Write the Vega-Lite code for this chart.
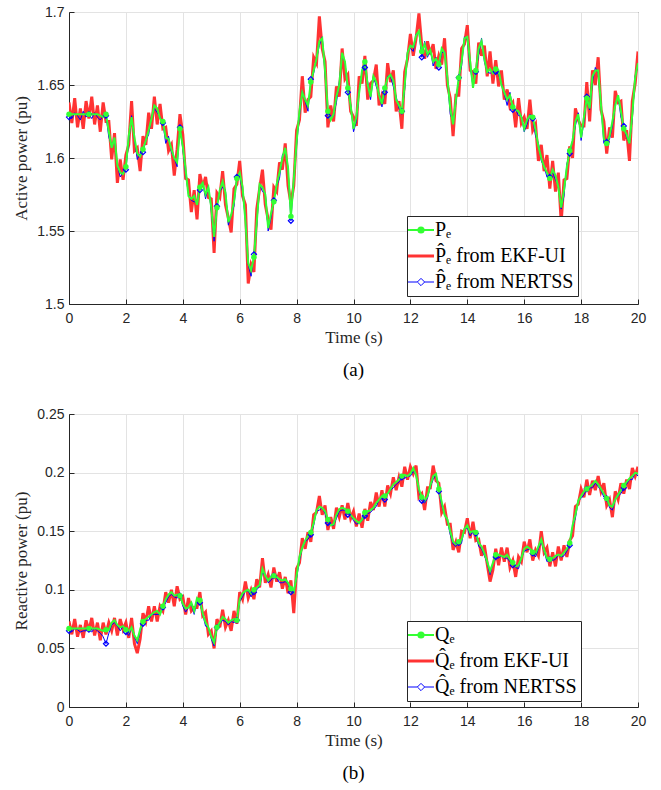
{
"$schema": "https://vega.github.io/schema/vega-lite/v6.json",
"padding": {"left": 12, "top": 4, "right": 10, "bottom": 5},
"config": {
  "view": {"stroke": "#262626", "strokeWidth": 1},
  "axis": {"domainColor": "#262626", "tickColor": "#262626", "tickSize": -5, "labelFlush": false, "labelFont": "Liberation Sans", "labelFontSize": 14, "labelColor": "#262626", "titleFont": "Liberation Serif", "titleFontSize": 17, "titleFontWeight": "normal", "titleColor": "#262626", "gridColor": "#e3e3e3", "gridWidth": 1},
  "axisX": {"labelPadding": 12, "titlePadding": 4},
  "axisY": {"labelPadding": 10, "titlePadding": 6},
  "legend": {"orient": "none", "legendX": 338, "legendY": 204, "fillColor": "white", "strokeColor": "#262626", "padding": 4, "labelFont": "Liberation Serif", "labelFontSize": 20, "labelColor": "black", "symbolSize": 676, "rowPadding": 6, "labelOffset": 4},
  "title": {"font": "Liberation Serif", "fontSize": 19, "fontWeight": "normal", "color": "black"}
},
"resolve": {"scale": {"color": "independent"}, "legend": {"color": "independent"}},
"spacing": 25,
"data": {"values": [
{"t":0,"P":1.63,"Pk":1.638,"Pn":1.628,"Q":0.067,"Qk":0.073,"Qn":0.065},
{"t":0.1,"P":1.63,"Pk":1.624,"Pn":1.627,"Q":0.067,"Qk":0.062,"Qn":0.064},
{"t":0.2,"P":1.63,"Pk":1.641,"Pn":1.631,"Q":0.067,"Qk":0.075,"Qn":0.067},
{"t":0.3,"P":1.63,"Pk":1.621,"Pn":1.629,"Q":0.067,"Qk":0.060,"Qn":0.066},
{"t":0.4,"P":1.63,"Pk":1.634,"Pn":1.626,"Q":0.067,"Qk":0.070,"Qn":0.064},
{"t":0.5,"P":1.63,"Pk":1.620,"Pn":1.632,"Q":0.067,"Qk":0.059,"Qn":0.065},
{"t":0.6,"P":1.63,"Pk":1.639,"Pn":1.628,"Q":0.067,"Qk":0.074,"Qn":0.065},
{"t":0.7,"P":1.63,"Pk":1.627,"Pn":1.630,"Q":0.067,"Qk":0.065,"Qn":0.066},
{"t":0.8,"P":1.63,"Pk":1.642,"Pn":1.627,"Q":0.067,"Qk":0.076,"Qn":0.064},
{"t":0.9,"P":1.63,"Pk":1.623,"Pn":1.631,"Q":0.067,"Qk":0.061,"Qn":0.067},
{"t":1,"P":1.63,"Pk":1.636,"Pn":1.628,"Q":0.067,"Qk":0.072,"Qn":0.065},
{"t":1.1,"P":1.629,"Pk":1.618,"Pn":1.626,"Q":0.066,"Qk":0.057,"Qn":0.063},
{"t":1.2,"P":1.628,"Pk":1.638,"Pn":1.629,"Q":0.065,"Qk":0.072,"Qn":0.060},
{"t":1.3,"P":1.630,"Pk":1.625,"Pn":1.629,"Q":0.066,"Qk":0.062,"Qn":0.054},
{"t":1.4,"P":1.618,"Pk":1.625,"Pn":1.614,"Q":0.066,"Qk":0.072,"Qn":0.063},
{"t":1.5,"P":1.607,"Pk":1.599,"Pn":1.609,"Q":0.072,"Qk":0.065,"Qn":0.070},
{"t":1.6,"P":1.614,"Pk":1.617,"Pn":1.612,"Q":0.074,"Qk":0.076,"Qn":0.072},
{"t":1.7,"P":1.595,"Pk":1.583,"Pn":1.595,"Q":0.070,"Qk":0.061,"Qn":0.069},
{"t":1.8,"P":1.590,"Pk":1.599,"Pn":1.587,"Q":0.068,"Qk":0.075,"Qn":0.065},
{"t":1.9,"P":1.589,"Pk":1.585,"Pn":1.590,"Q":0.069,"Qk":0.066,"Qn":0.069},
{"t":2,"P":1.594,"Pk":1.602,"Pn":1.592,"Q":0.066,"Qk":0.072,"Qn":0.064},
{"t":2.1,"P":1.615,"Pk":1.609,"Pn":1.612,"Q":0.064,"Qk":0.059,"Qn":0.061},
{"t":2.2,"P":1.628,"Pk":1.639,"Pn":1.629,"Q":0.068,"Qk":0.076,"Qn":0.068},
{"t":2.3,"P":1.614,"Pk":1.605,"Pn":1.613,"Q":0.061,"Qk":0.054,"Qn":0.060},
{"t":2.4,"P":1.603,"Pk":1.607,"Pn":1.599,"Q":0.057,"Qk":0.046,"Qn":0.054},
{"t":2.5,"P":1.601,"Pk":1.591,"Pn":1.603,"Q":0.066,"Qk":0.058,"Qn":0.064},
{"t":2.6,"P":1.606,"Pk":1.615,"Pn":1.604,"Q":0.073,"Qk":0.080,"Qn":0.071},
{"t":2.7,"P":1.612,"Pk":1.609,"Pn":1.612,"Q":0.075,"Qk":0.073,"Qn":0.074},
{"t":2.8,"P":1.619,"Pk":1.631,"Pn":1.616,"Q":0.077,"Qk":0.086,"Qn":0.074},
{"t":2.9,"P":1.627,"Pk":1.620,"Pn":1.628,"Q":0.079,"Qk":0.073,"Qn":0.079},
{"t":3,"P":1.636,"Pk":1.642,"Pn":1.634,"Q":0.081,"Qk":0.086,"Qn":0.079},
{"t":3.1,"P":1.634,"Pk":1.623,"Pn":1.631,"Q":0.082,"Qk":0.073,"Qn":0.079},
{"t":3.2,"P":1.627,"Pk":1.637,"Pn":1.628,"Q":0.079,"Qk":0.086,"Qn":0.079},
{"t":3.3,"P":1.625,"Pk":1.620,"Pn":1.624,"Q":0.086,"Qk":0.082,"Qn":0.085},
{"t":3.4,"P":1.614,"Pk":1.621,"Pn":1.610,"Q":0.092,"Qk":0.098,"Qn":0.089},
{"t":3.5,"P":1.613,"Pk":1.605,"Pn":1.615,"Q":0.096,"Qk":0.089,"Qn":0.094},
{"t":3.6,"P":1.606,"Pk":1.609,"Pn":1.604,"Q":0.098,"Qk":0.100,"Qn":0.096},
{"t":3.7,"P":1.600,"Pk":1.588,"Pn":1.600,"Q":0.095,"Qk":0.086,"Qn":0.094},
{"t":3.8,"P":1.597,"Pk":1.606,"Pn":1.594,"Q":0.096,"Qk":0.103,"Qn":0.093},
{"t":3.9,"P":1.620,"Pk":1.630,"Pn":1.621,"Q":0.095,"Qk":0.092,"Qn":0.095},
{"t":4,"P":1.608,"Pk":1.616,"Pn":1.606,"Q":0.088,"Qk":0.094,"Qn":0.086},
{"t":4.1,"P":1.592,"Pk":1.586,"Pn":1.589,"Q":0.084,"Qk":0.079,"Qn":0.081},
{"t":4.2,"P":1.574,"Pk":1.585,"Pn":1.575,"Q":0.085,"Qk":0.093,"Qn":0.085},
{"t":4.3,"P":1.572,"Pk":1.563,"Pn":1.571,"Q":0.089,"Qk":0.082,"Qn":0.088},
{"t":4.4,"P":1.574,"Pk":1.578,"Pn":1.570,"Q":0.082,"Qk":0.085,"Qn":0.079},
{"t":4.5,"P":1.568,"Pk":1.558,"Pn":1.570,"Q":0.093,"Qk":0.085,"Qn":0.091},
{"t":4.6,"P":1.580,"Pk":1.589,"Pn":1.578,"Q":0.091,"Qk":0.098,"Qn":0.089},
{"t":4.7,"P":1.583,"Pk":1.580,"Pn":1.583,"Q":0.080,"Qk":0.078,"Qn":0.079},
{"t":4.8,"P":1.575,"Pk":1.587,"Pn":1.572,"Q":0.072,"Qk":0.081,"Qn":0.069},
{"t":4.9,"P":1.580,"Pk":1.573,"Pn":1.581,"Q":0.068,"Qk":0.062,"Qn":0.068},
{"t":5,"P":1.566,"Pk":1.572,"Pn":1.564,"Q":0.060,"Qk":0.065,"Qn":0.058},
{"t":5.1,"P":1.546,"Pk":1.535,"Pn":1.543,"Q":0.055,"Qk":0.050,"Qn":0.052},
{"t":5.2,"P":1.566,"Pk":1.576,"Pn":1.567,"Q":0.068,"Qk":0.075,"Qn":0.068},
{"t":5.3,"P":1.578,"Pk":1.573,"Pn":1.577,"Q":0.072,"Qk":0.068,"Qn":0.071},
{"t":5.4,"P":1.584,"Pk":1.591,"Pn":1.580,"Q":0.077,"Qk":0.083,"Qn":0.074},
{"t":5.5,"P":1.576,"Pk":1.568,"Pn":1.578,"Q":0.075,"Qk":0.068,"Qn":0.073},
{"t":5.6,"P":1.556,"Pk":1.559,"Pn":1.554,"Q":0.072,"Qk":0.074,"Qn":0.070},
{"t":5.7,"P":1.561,"Pk":1.549,"Pn":1.561,"Q":0.074,"Qk":0.065,"Qn":0.073},
{"t":5.8,"P":1.570,"Pk":1.579,"Pn":1.567,"Q":0.075,"Qk":0.082,"Qn":0.072},
{"t":5.9,"P":1.586,"Pk":1.582,"Pn":1.587,"Q":0.074,"Qk":0.071,"Qn":0.074},
{"t":6,"P":1.590,"Pk":1.598,"Pn":1.588,"Q":0.092,"Qk":0.098,"Qn":0.090},
{"t":6.1,"P":1.580,"Pk":1.574,"Pn":1.577,"Q":0.097,"Qk":0.092,"Qn":0.094},
{"t":6.2,"P":1.557,"Pk":1.568,"Pn":1.558,"Q":0.099,"Qk":0.107,"Qn":0.099},
{"t":6.3,"P":1.528,"Pk":1.514,"Pn":1.527,"Q":0.100,"Qk":0.093,"Qn":0.099},
{"t":6.4,"P":1.523,"Pk":1.527,"Pn":1.519,"Q":0.097,"Qk":0.100,"Qn":0.094},
{"t":6.5,"P":1.532,"Pk":1.522,"Pn":1.534,"Q":0.100,"Qk":0.092,"Qn":0.098},
{"t":6.6,"P":1.556,"Pk":1.565,"Pn":1.554,"Q":0.102,"Qk":0.109,"Qn":0.100},
{"t":6.7,"P":1.582,"Pk":1.579,"Pn":1.582,"Q":0.104,"Qk":0.102,"Qn":0.103},
{"t":6.8,"P":1.580,"Pk":1.592,"Pn":1.577,"Q":0.118,"Qk":0.127,"Qn":0.115},
{"t":6.9,"P":1.575,"Pk":1.568,"Pn":1.576,"Q":0.112,"Qk":0.106,"Qn":0.112},
{"t":7,"P":1.552,"Pk":1.558,"Pn":1.550,"Q":0.108,"Qk":0.113,"Qn":0.106},
{"t":7.1,"P":1.562,"Pk":1.551,"Pn":1.559,"Q":0.111,"Qk":0.102,"Qn":0.108},
{"t":7.2,"P":1.570,"Pk":1.580,"Pn":1.571,"Q":0.112,"Qk":0.119,"Qn":0.112},
{"t":7.3,"P":1.582,"Pk":1.577,"Pn":1.581,"Q":0.111,"Qk":0.107,"Qn":0.110},
{"t":7.4,"P":1.590,"Pk":1.597,"Pn":1.586,"Q":0.109,"Qk":0.115,"Qn":0.106},
{"t":7.5,"P":1.600,"Pk":1.592,"Pn":1.602,"Q":0.108,"Qk":0.101,"Qn":0.106},
{"t":7.6,"P":1.607,"Pk":1.610,"Pn":1.605,"Q":0.109,"Qk":0.111,"Qn":0.107},
{"t":7.7,"P":1.593,"Pk":1.581,"Pn":1.593,"Q":0.106,"Qk":0.097,"Qn":0.105},
{"t":7.8,"P":1.560,"Pk":1.569,"Pn":1.557,"Q":0.101,"Qk":0.108,"Qn":0.098},
{"t":7.9,"P":1.585,"Pk":1.581,"Pn":1.586,"Q":0.098,"Qk":0.080,"Qn":0.098},
{"t":8,"P":1.611,"Pk":1.619,"Pn":1.609,"Q":0.112,"Qk":0.118,"Qn":0.110},
{"t":8.1,"P":1.632,"Pk":1.626,"Pn":1.629,"Q":0.128,"Qk":0.123,"Qn":0.125},
{"t":8.2,"P":1.645,"Pk":1.656,"Pn":1.646,"Q":0.136,"Qk":0.144,"Qn":0.136},
{"t":8.3,"P":1.640,"Pk":1.631,"Pn":1.639,"Q":0.142,"Qk":0.135,"Qn":0.141},
{"t":8.4,"P":1.636,"Pk":1.640,"Pn":1.632,"Q":0.146,"Qk":0.149,"Qn":0.143},
{"t":8.5,"P":1.652,"Pk":1.642,"Pn":1.654,"Q":0.149,"Qk":0.141,"Qn":0.147},
{"t":8.6,"P":1.660,"Pk":1.669,"Pn":1.658,"Q":0.157,"Qk":0.164,"Qn":0.155},
{"t":8.7,"P":1.668,"Pk":1.665,"Pn":1.668,"Q":0.168,"Qk":0.166,"Qn":0.167},
{"t":8.8,"P":1.680,"Pk":1.697,"Pn":1.677,"Q":0.171,"Qk":0.180,"Qn":0.168},
{"t":8.9,"P":1.682,"Pk":1.675,"Pn":1.683,"Q":0.170,"Qk":0.164,"Qn":0.170},
{"t":9,"P":1.660,"Pk":1.666,"Pn":1.658,"Q":0.167,"Qk":0.172,"Qn":0.165},
{"t":9.1,"P":1.632,"Pk":1.621,"Pn":1.629,"Q":0.160,"Qk":0.151,"Qn":0.157},
{"t":9.2,"P":1.626,"Pk":1.636,"Pn":1.627,"Q":0.155,"Qk":0.162,"Qn":0.155},
{"t":9.3,"P":1.630,"Pk":1.625,"Pn":1.629,"Q":0.156,"Qk":0.152,"Qn":0.155},
{"t":9.4,"P":1.642,"Pk":1.649,"Pn":1.638,"Q":0.164,"Qk":0.170,"Qn":0.161},
{"t":9.5,"P":1.650,"Pk":1.642,"Pn":1.652,"Q":0.169,"Qk":0.162,"Qn":0.167},
{"t":9.6,"P":1.672,"Pk":1.675,"Pn":1.670,"Q":0.170,"Qk":0.172,"Qn":0.168},
{"t":9.7,"P":1.666,"Pk":1.654,"Pn":1.666,"Q":0.169,"Qk":0.160,"Qn":0.168},
{"t":9.8,"P":1.648,"Pk":1.657,"Pn":1.645,"Q":0.167,"Qk":0.174,"Qn":0.164},
{"t":9.9,"P":1.636,"Pk":1.632,"Pn":1.637,"Q":0.164,"Qk":0.161,"Qn":0.164},
{"t":10,"P":1.620,"Pk":1.628,"Pn":1.618,"Q":0.161,"Qk":0.167,"Qn":0.159},
{"t":10.1,"P":1.628,"Pk":1.622,"Pn":1.625,"Q":0.159,"Qk":0.154,"Qn":0.156},
{"t":10.2,"P":1.645,"Pk":1.656,"Pn":1.646,"Q":0.157,"Qk":0.165,"Qn":0.157},
{"t":10.3,"P":1.660,"Pk":1.651,"Pn":1.659,"Q":0.160,"Qk":0.153,"Qn":0.159},
{"t":10.4,"P":1.666,"Pk":1.670,"Pn":1.662,"Q":0.166,"Qk":0.169,"Qn":0.163},
{"t":10.5,"P":1.650,"Pk":1.640,"Pn":1.652,"Q":0.167,"Qk":0.159,"Qn":0.165},
{"t":10.6,"P":1.642,"Pk":1.651,"Pn":1.640,"Q":0.168,"Qk":0.175,"Qn":0.166},
{"t":10.7,"P":1.656,"Pk":1.653,"Pn":1.656,"Q":0.170,"Qk":0.168,"Qn":0.169},
{"t":10.8,"P":1.652,"Pk":1.664,"Pn":1.649,"Q":0.174,"Qk":0.183,"Qn":0.171},
{"t":10.9,"P":1.643,"Pk":1.636,"Pn":1.644,"Q":0.177,"Qk":0.171,"Qn":0.177},
{"t":11,"P":1.637,"Pk":1.643,"Pn":1.635,"Q":0.180,"Qk":0.185,"Qn":0.178},
{"t":11.1,"P":1.648,"Pk":1.637,"Pn":1.645,"Q":0.180,"Qk":0.171,"Qn":0.177},
{"t":11.2,"P":1.655,"Pk":1.665,"Pn":1.656,"Q":0.182,"Qk":0.189,"Qn":0.182},
{"t":11.3,"P":1.657,"Pk":1.652,"Pn":1.656,"Q":0.186,"Qk":0.182,"Qn":0.185},
{"t":11.4,"P":1.653,"Pk":1.660,"Pn":1.649,"Q":0.190,"Qk":0.196,"Qn":0.187},
{"t":11.5,"P":1.640,"Pk":1.632,"Pn":1.642,"Q":0.192,"Qk":0.185,"Qn":0.190},
{"t":11.6,"P":1.636,"Pk":1.639,"Pn":1.634,"Q":0.194,"Qk":0.196,"Qn":0.192},
{"t":11.7,"P":1.632,"Pk":1.620,"Pn":1.632,"Q":0.197,"Qk":0.188,"Qn":0.196},
{"t":11.8,"P":1.650,"Pk":1.659,"Pn":1.647,"Q":0.198,"Qk":0.205,"Qn":0.195},
{"t":11.9,"P":1.672,"Pk":1.668,"Pn":1.673,"Q":0.197,"Qk":0.194,"Qn":0.197},
{"t":12,"P":1.677,"Pk":1.685,"Pn":1.675,"Q":0.199,"Qk":0.205,"Qn":0.197},
{"t":12.1,"P":1.676,"Pk":1.670,"Pn":1.673,"Q":0.204,"Qk":0.199,"Qn":0.201},
{"t":12.2,"P":1.684,"Pk":1.682,"Pn":1.685,"Q":0.198,"Qk":0.206,"Qn":0.198},
{"t":12.3,"P":1.687,"Pk":1.699,"Pn":1.686,"Q":0.186,"Qk":0.179,"Qn":0.185},
{"t":12.4,"P":1.673,"Pk":1.677,"Pn":1.669,"Q":0.179,"Qk":0.182,"Qn":0.176},
{"t":12.5,"P":1.678,"Pk":1.668,"Pn":1.680,"Q":0.176,"Qk":0.168,"Qn":0.174},
{"t":12.6,"P":1.671,"Pk":1.680,"Pn":1.669,"Q":0.180,"Qk":0.187,"Qn":0.178},
{"t":12.7,"P":1.674,"Pk":1.671,"Pn":1.674,"Q":0.189,"Qk":0.187,"Qn":0.188},
{"t":12.8,"P":1.666,"Pk":1.678,"Pn":1.663,"Q":0.197,"Qk":0.206,"Qn":0.194},
{"t":12.9,"P":1.668,"Pk":1.661,"Pn":1.669,"Q":0.199,"Qk":0.193,"Qn":0.199},
{"t":13,"P":1.664,"Pk":1.670,"Pn":1.662,"Q":0.186,"Qk":0.191,"Qn":0.184},
{"t":13.1,"P":1.675,"Pk":1.664,"Pn":1.672,"Q":0.175,"Qk":0.166,"Qn":0.172},
{"t":13.2,"P":1.672,"Pk":1.682,"Pn":1.673,"Q":0.164,"Qk":0.171,"Qn":0.164},
{"t":13.3,"P":1.655,"Pk":1.650,"Pn":1.654,"Q":0.160,"Qk":0.156,"Qn":0.159},
{"t":13.4,"P":1.634,"Pk":1.641,"Pn":1.630,"Q":0.150,"Qk":0.156,"Qn":0.147},
{"t":13.5,"P":1.623,"Pk":1.615,"Pn":1.625,"Q":0.141,"Qk":0.134,"Qn":0.139},
{"t":13.6,"P":1.640,"Pk":1.643,"Pn":1.638,"Q":0.139,"Qk":0.141,"Qn":0.137},
{"t":13.7,"P":1.655,"Pk":1.643,"Pn":1.655,"Q":0.141,"Qk":0.132,"Qn":0.140},
{"t":13.8,"P":1.666,"Pk":1.675,"Pn":1.663,"Q":0.143,"Qk":0.150,"Qn":0.140},
{"t":13.9,"P":1.682,"Pk":1.678,"Pn":1.683,"Q":0.152,"Qk":0.149,"Qn":0.152},
{"t":14,"P":1.683,"Pk":1.691,"Pn":1.681,"Q":0.155,"Qk":0.161,"Qn":0.153},
{"t":14.1,"P":1.666,"Pk":1.660,"Pn":1.663,"Q":0.149,"Qk":0.144,"Qn":0.146},
{"t":14.2,"P":1.648,"Pk":1.659,"Pn":1.649,"Q":0.150,"Qk":0.158,"Qn":0.150},
{"t":14.3,"P":1.660,"Pk":1.651,"Pn":1.659,"Q":0.149,"Qk":0.142,"Qn":0.148},
{"t":14.4,"P":1.675,"Pk":1.679,"Pn":1.671,"Q":0.140,"Qk":0.143,"Qn":0.137},
{"t":14.5,"P":1.680,"Pk":1.670,"Pn":1.682,"Q":0.137,"Qk":0.129,"Qn":0.135},
{"t":14.6,"P":1.668,"Pk":1.677,"Pn":1.666,"Q":0.131,"Qk":0.138,"Qn":0.129},
{"t":14.7,"P":1.659,"Pk":1.656,"Pn":1.659,"Q":0.124,"Qk":0.122,"Qn":0.123},
{"t":14.8,"P":1.661,"Pk":1.673,"Pn":1.658,"Q":0.116,"Qk":0.107,"Qn":0.113},
{"t":14.9,"P":1.658,"Pk":1.651,"Pn":1.659,"Q":0.123,"Qk":0.117,"Qn":0.123},
{"t":15,"P":1.661,"Pk":1.667,"Pn":1.659,"Q":0.130,"Qk":0.135,"Qn":0.128},
{"t":15.1,"P":1.660,"Pk":1.649,"Pn":1.657,"Q":0.130,"Qk":0.121,"Qn":0.127},
{"t":15.2,"P":1.650,"Pk":1.660,"Pn":1.651,"Q":0.129,"Qk":0.136,"Qn":0.129},
{"t":15.3,"P":1.645,"Pk":1.640,"Pn":1.644,"Q":0.128,"Qk":0.124,"Qn":0.127},
{"t":15.4,"P":1.640,"Pk":1.647,"Pn":1.636,"Q":0.130,"Qk":0.136,"Qn":0.127},
{"t":15.5,"P":1.643,"Pk":1.635,"Pn":1.645,"Q":0.126,"Qk":0.119,"Qn":0.124},
{"t":15.6,"P":1.635,"Pk":1.638,"Pn":1.633,"Q":0.123,"Qk":0.125,"Qn":0.121},
{"t":15.7,"P":1.633,"Pk":1.621,"Pn":1.633,"Q":0.120,"Qk":0.111,"Qn":0.119},
{"t":15.8,"P":1.632,"Pk":1.641,"Pn":1.629,"Q":0.121,"Qk":0.128,"Qn":0.118},
{"t":15.9,"P":1.628,"Pk":1.624,"Pn":1.629,"Q":0.127,"Qk":0.124,"Qn":0.127},
{"t":16,"P":1.620,"Pk":1.628,"Pn":1.618,"Q":0.135,"Qk":0.141,"Qn":0.133},
{"t":16.1,"P":1.626,"Pk":1.620,"Pn":1.623,"Q":0.137,"Qk":0.132,"Qn":0.134},
{"t":16.2,"P":1.629,"Pk":1.640,"Pn":1.630,"Q":0.135,"Qk":0.143,"Qn":0.135},
{"t":16.3,"P":1.628,"Pk":1.619,"Pn":1.627,"Q":0.132,"Qk":0.125,"Qn":0.131},
{"t":16.4,"P":1.619,"Pk":1.623,"Pn":1.615,"Q":0.131,"Qk":0.134,"Qn":0.128},
{"t":16.5,"P":1.608,"Pk":1.598,"Pn":1.610,"Q":0.137,"Qk":0.129,"Qn":0.135},
{"t":16.6,"P":1.600,"Pk":1.609,"Pn":1.598,"Q":0.143,"Qk":0.150,"Qn":0.141},
{"t":16.7,"P":1.594,"Pk":1.591,"Pn":1.594,"Q":0.134,"Qk":0.132,"Qn":0.133},
{"t":16.8,"P":1.590,"Pk":1.602,"Pn":1.587,"Q":0.127,"Qk":0.136,"Qn":0.124},
{"t":16.9,"P":1.586,"Pk":1.579,"Pn":1.587,"Q":0.126,"Qk":0.120,"Qn":0.126},
{"t":17,"P":1.592,"Pk":1.598,"Pn":1.590,"Q":0.127,"Qk":0.132,"Qn":0.125},
{"t":17.1,"P":1.588,"Pk":1.577,"Pn":1.585,"Q":0.129,"Qk":0.120,"Qn":0.126},
{"t":17.2,"P":1.580,"Pk":1.590,"Pn":1.581,"Q":0.130,"Qk":0.137,"Qn":0.130},
{"t":17.3,"P":1.566,"Pk":1.556,"Pn":1.565,"Q":0.129,"Qk":0.125,"Qn":0.128},
{"t":17.4,"P":1.578,"Pk":1.585,"Pn":1.574,"Q":0.132,"Qk":0.138,"Qn":0.129},
{"t":17.5,"P":1.594,"Pk":1.586,"Pn":1.596,"Q":0.135,"Qk":0.128,"Qn":0.133},
{"t":17.6,"P":1.605,"Pk":1.608,"Pn":1.603,"Q":0.140,"Qk":0.142,"Qn":0.138},
{"t":17.7,"P":1.612,"Pk":1.600,"Pn":1.612,"Q":0.155,"Qk":0.146,"Qn":0.154},
{"t":17.8,"P":1.625,"Pk":1.634,"Pn":1.622,"Q":0.164,"Qk":0.171,"Qn":0.161},
{"t":17.9,"P":1.630,"Pk":1.626,"Pn":1.631,"Q":0.176,"Qk":0.173,"Qn":0.176},
{"t":18,"P":1.614,"Pk":1.622,"Pn":1.612,"Q":0.180,"Qk":0.186,"Qn":0.178},
{"t":18.1,"P":1.628,"Pk":1.622,"Pn":1.625,"Q":0.184,"Qk":0.179,"Qn":0.181},
{"t":18.2,"P":1.641,"Pk":1.652,"Pn":1.642,"Q":0.186,"Qk":0.194,"Qn":0.186},
{"t":18.3,"P":1.634,"Pk":1.625,"Pn":1.633,"Q":0.188,"Qk":0.181,"Qn":0.187},
{"t":18.4,"P":1.656,"Pk":1.660,"Pn":1.652,"Q":0.190,"Qk":0.193,"Qn":0.187},
{"t":18.5,"P":1.660,"Pk":1.650,"Pn":1.662,"Q":0.193,"Qk":0.185,"Qn":0.191},
{"t":18.6,"P":1.660,"Pk":1.669,"Pn":1.658,"Q":0.190,"Qk":0.197,"Qn":0.188},
{"t":18.7,"P":1.636,"Pk":1.633,"Pn":1.636,"Q":0.186,"Qk":0.184,"Qn":0.185},
{"t":18.8,"P":1.613,"Pk":1.625,"Pn":1.610,"Q":0.182,"Qk":0.191,"Qn":0.179},
{"t":18.9,"P":1.610,"Pk":1.603,"Pn":1.611,"Q":0.178,"Qk":0.172,"Qn":0.178},
{"t":19,"P":1.615,"Pk":1.621,"Pn":1.613,"Q":0.172,"Qk":0.177,"Qn":0.170},
{"t":19.1,"P":1.625,"Pk":1.614,"Pn":1.622,"Q":0.171,"Qk":0.162,"Qn":0.168},
{"t":19.2,"P":1.636,"Pk":1.646,"Pn":1.637,"Q":0.177,"Qk":0.184,"Qn":0.177},
{"t":19.3,"P":1.643,"Pk":1.638,"Pn":1.642,"Q":0.181,"Qk":0.177,"Qn":0.180},
{"t":19.4,"P":1.632,"Pk":1.639,"Pn":1.628,"Q":0.185,"Qk":0.191,"Qn":0.182},
{"t":19.5,"P":1.620,"Pk":1.612,"Pn":1.622,"Q":0.189,"Qk":0.182,"Qn":0.187},
{"t":19.6,"P":1.616,"Pk":1.619,"Pn":1.614,"Q":0.192,"Qk":0.194,"Qn":0.190},
{"t":19.7,"P":1.610,"Pk":1.598,"Pn":1.610,"Q":0.195,"Qk":0.186,"Qn":0.194},
{"t":19.8,"P":1.630,"Pk":1.639,"Pn":1.627,"Q":0.197,"Qk":0.204,"Qn":0.194},
{"t":19.9,"P":1.655,"Pk":1.651,"Pn":1.656,"Q":0.200,"Qk":0.197,"Qn":0.200},
{"t":20,"P":1.665,"Pk":1.673,"Pn":1.663,"Q":0.199,"Qk":0.205,"Qn":0.197}
]},
"vconcat": [
{
  "width": 569, "height": 292,
  "title": {"text": "(a)", "orient": "bottom", "anchor": "middle", "frame": "group", "offset": 16},
  "encoding": {"x": {"field": "t", "type": "quantitative", "scale": {"domain": [0, 20], "nice": false}, "axis": {"title": "Time (s)", "values": [0,2,4,6,8,10,12,14,16,18,20], "format": "d"}}},
  "layer": [
    {"mark": {"type": "line", "strokeWidth": 3, "clip": true},
     "encoding": {"y": {"field": "Pk", "type": "quantitative", "scale": {"domain": [1.5, 1.7], "nice": false, "zero": false}, "axis": {"title": "Active power (pu)", "values": [1.5,1.55,1.6,1.65,1.7], "format": "~g"}},
       "color": {"datum": "b", "type": "nominal", "scale": {"domain": ["a","b","c"], "range": ["#33ff33","#ff3333","#0000ff"]},
         "legend": {"title": null, "symbolSize": 676, "labelExpr": "datum.value === 'a' ? 'P\u2091' : datum.value === 'b' ? 'P\u0302\u2091 from EKF-UI' : 'P\u0302\u2091 from NERTSS'",
           "symbolType": {"expr": "datum.value === 'a' ? 'M-1,0H1M-0.2,0A0.2,0.2,0,1,1,0.2,0A0.2,0.2,0,1,1,-0.2,0Z' : datum.value === 'b' ? 'M-1,0H1' : 'M-1,0H-0.28M0.28,0H1M-0.28,0L0,-0.28L0.28,0L0,0.28Z'"},
           "symbolFillColor": {"expr": "datum.value === 'a' ? '#33ff33' : datum.value === 'c' ? '#ffffff' : 'transparent'"},
           "symbolStrokeWidth": {"expr": "datum.value === 'b' ? 3 : datum.value === 'a' ? 2 : 1"}}}}},
    {"mark": {"type": "line", "strokeWidth": 1, "color": "#0000ff", "clip": true}, "encoding": {"y": {"field": "Pn", "type": "quantitative"}}},
    {"mark": {"type": "line", "strokeWidth": 2, "color": "#33ff33", "clip": true}, "encoding": {"y": {"field": "P", "type": "quantitative"}}},
    {"transform": [{"filter": {"field": "t", "oneOf": [0,0.7,1.3,2,2.6,3.3,3.9,4.6,5.2,5.9,6.5,7.2,7.8,8.5,9.1,9.8,10.4,11.1,11.7,12.4,13,13.7,14.3,15,15.6,16.3,16.9,17.6,18.2,18.9,19.5]}}],
     "mark": {"type": "point", "shape": "diamond", "filled": false, "size": 26, "strokeWidth": 1.2, "color": "#0000ff", "opacity": 1},
     "encoding": {"y": {"field": "Pn", "type": "quantitative"}}},
    {"transform": [{"filter": {"field": "t", "oneOf": [0,0.7,1.3,2,2.6,3.3,3.9,4.6,5.2,5.9,6.5,7.2,7.8,8.5,9.1,9.8,10.4,11.1,11.7,12.4,13,13.7,14.3,15,15.6,16.3,16.9,17.6,18.2,18.9,19.5]}}],
     "mark": {"type": "point", "shape": "circle", "filled": true, "size": 30, "color": "#33ff33", "opacity": 1},
     "encoding": {"y": {"field": "P", "type": "quantitative"}}}
  ]
},
{
  "width": 569, "height": 293,
  "title": {"text": "(b)", "orient": "bottom", "anchor": "middle", "frame": "group", "offset": 16},
  "encoding": {"x": {"field": "t", "type": "quantitative", "scale": {"domain": [0, 20], "nice": false}, "axis": {"title": "Time (s)", "values": [0,2,4,6,8,10,12,14,16,18,20], "format": "d"}}},
  "layer": [
    {"mark": {"type": "line", "strokeWidth": 3, "clip": true},
     "encoding": {"y": {"field": "Qk", "type": "quantitative", "scale": {"domain": [0, 0.25], "nice": false}, "axis": {"title": "Reactive power (pu)", "values": [0,0.05,0.1,0.15,0.2,0.25], "format": "~g"}},
       "color": {"datum": "b", "type": "nominal", "scale": {"domain": ["a","b","c"], "range": ["#33ff33","#ff3333","#0000ff"]},
         "legend": {"title": null, "symbolSize": 676, "legendY": 207, "labelExpr": "datum.value === 'a' ? 'Q\u2091' : datum.value === 'b' ? 'Q\u0302\u2091 from EKF-UI' : 'Q\u0302\u2091 from NERTSS'",
           "symbolType": {"expr": "datum.value === 'a' ? 'M-1,0H1M-0.2,0A0.2,0.2,0,1,1,0.2,0A0.2,0.2,0,1,1,-0.2,0Z' : datum.value === 'b' ? 'M-1,0H1' : 'M-1,0H-0.28M0.28,0H1M-0.28,0L0,-0.28L0.28,0L0,0.28Z'"},
           "symbolFillColor": {"expr": "datum.value === 'a' ? '#33ff33' : datum.value === 'c' ? '#ffffff' : 'transparent'"},
           "symbolStrokeWidth": {"expr": "datum.value === 'b' ? 3 : datum.value === 'a' ? 2 : 1"}}}}},
    {"mark": {"type": "line", "strokeWidth": 1, "color": "#0000ff", "clip": true}, "encoding": {"y": {"field": "Qn", "type": "quantitative"}}},
    {"mark": {"type": "line", "strokeWidth": 2, "color": "#33ff33", "clip": true}, "encoding": {"y": {"field": "Q", "type": "quantitative"}}},
    {"transform": [{"filter": {"field": "t", "oneOf": [0,0.7,1.3,2,2.6,3.3,3.9,4.6,5.2,5.9,6.5,7.2,7.8,8.5,9.1,9.8,10.4,11.1,11.7,12.4,13,13.7,14.3,15,15.6,16.3,16.9,17.6,18.2,18.9,19.5]}}],
     "mark": {"type": "point", "shape": "diamond", "filled": false, "size": 26, "strokeWidth": 1.2, "color": "#0000ff", "opacity": 1},
     "encoding": {"y": {"field": "Qn", "type": "quantitative"}}},
    {"transform": [{"filter": {"field": "t", "oneOf": [0,0.7,1.3,2,2.6,3.3,3.9,4.6,5.2,5.9,6.5,7.2,7.8,8.5,9.1,9.8,10.4,11.1,11.7,12.4,13,13.7,14.3,15,15.6,16.3,16.9,17.6,18.2,18.9,19.5]}}],
     "mark": {"type": "point", "shape": "circle", "filled": true, "size": 30, "color": "#33ff33", "opacity": 1},
     "encoding": {"y": {"field": "Q", "type": "quantitative"}}}
  ]
}
]
}
